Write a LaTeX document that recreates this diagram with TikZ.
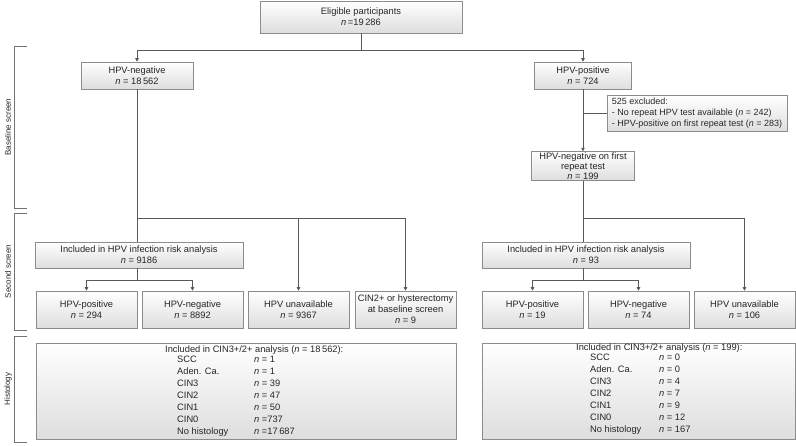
\documentclass[tikz,border=0pt]{standalone}
\usepackage{fontspec}
\setmainfont{Liberation Sans}
\usetikzlibrary{arrows.meta}
\newcommand{\nn}{\textit{n}}
\tikzset{
  box/.style={draw=black!45, line width=0.6pt, top color=white, bottom color=black!13,
    text=black!85, align=center, inner sep=1pt, font=\fontsize{9.3}{11}\selectfont},
  link/.style={draw=black!65, line width=0.7pt},
  arr/.style={link, -{Triangle[length=3.5pt,width=3.5pt]}},
  brace/.style={draw=black!55, line width=0.7pt},
  side/.style={rotate=90, text=black!85, font=\fontsize{8}{9.5}\selectfont},
  htext/.style={anchor=north west, inner sep=0pt, text=black!85, font=\fontsize{9.3}{12}\selectfont},
}
\begin{document}
\begin{tikzpicture}[x=1pt,y=-1pt]
\useasboundingbox (0,0) rectangle (796,445);
\node[box, minimum width=202pt, minimum height=32pt] (elig) at (361,17) {Eligible participants\\\nn\,=19\,286};
\node[box, minimum width=112pt, minimum height=27pt] (neg) at (137,75.5) {HPV-negative\\\nn\ = 18\,562};
\node[box, minimum width=97pt, minimum height=27pt] (pos) at (583,75.5) {HPV-positive\\\nn\ = 724};
\node[box, minimum width=180pt, minimum height=36pt, align=left, font=\fontsize{9}{11}\selectfont] (excl) at (697,113.5) {525 excluded:\\- No repeat HPV test available (\nn\ = 242)\\- HPV-positive on first repeat test (\nn\ = 283)};
\node[box, minimum width=103pt, minimum height=28pt, font=\fontsize{9.3}{10}\selectfont] (rep) at (583,166) {HPV-negative on first\\repeat test\\\nn\ = 199};
\node[box, minimum width=208pt, minimum height=26pt] (incL) at (139,255) {Included in HPV infection risk analysis\\\nn\ = 9186};
\node[box, minimum width=101pt, minimum height=37pt] (posL) at (86.5,309.5) {HPV-positive\\\nn\ = 294};
\node[box, minimum width=101pt, minimum height=37pt] (negL) at (192.5,309.5) {HPV-negative\\\nn\ = 8892};
\node[box, minimum width=101pt, minimum height=37pt] (unavL) at (298.5,309.5) {HPV unavailable\\\nn\ = 9367};
\node[box, minimum width=101pt, minimum height=37pt] (cin) at (405.5,309.5) {CIN2+ or hysterectomy\\at baseline screen\\\nn\ = 9};
\node[box, minimum width=208pt, minimum height=26pt] (incR) at (586,255) {Included in HPV infection risk analysis\\\nn\ = 93};
\node[box, minimum width=101pt, minimum height=37pt] (posR) at (532.5,309.5) {HPV-positive\\\nn\ = 19};
\node[box, minimum width=101pt, minimum height=37pt] (negR) at (638.5,309.5) {HPV-negative\\\nn\ = 74};
\node[box, minimum width=101pt, minimum height=37pt] (unavR) at (744.5,309.5) {HPV unavailable\\\nn\ = 106};
\node[box, minimum width=420pt, minimum height=96pt] (histL) at (246,391) {};
\node[box, minimum width=313pt, minimum height=96pt] (histR) at (638.5,391) {};
\node[htext] (histLt) at (165,344) {\begin{tabular}{@{\hspace{12pt}}p{77pt}@{}l@{}}
\multicolumn{2}{@{}l@{}}{Included in CIN3+/2+ analysis (\nn\ = 18\,562):}\\[-2pt]
SCC & \nn\ = 1\\
Aden. Ca. & \nn\ = 1\\
CIN3 & \nn\ = 39\\
CIN2 & \nn\ = 47\\
CIN1 & \nn\ = 50\\
CIN0 & \nn\ =737\\
No histology & \nn\ =17\,687
\end{tabular}};
\node[htext] (histRt) at (576,342) {\begin{tabular}{@{\hspace{14pt}}p{69pt}@{}l@{}}
\multicolumn{2}{@{}l@{}}{Included in CIN3+/2+ analysis (\nn\ = 199):}\\[-2pt]
SCC & \nn\ = 0\\
Aden. Ca. & \nn\ = 0\\
CIN3 & \nn\ = 4\\
CIN2 & \nn\ = 7\\
CIN1 & \nn\ = 9\\
CIN0 & \nn\ = 12\\
No histology & \nn\ = 167
\end{tabular}};
\coordinate (s1) at (361,50);
\coordinate (s2) at (137,218);
\coordinate (s3) at (137,280);
\coordinate (s4) at (583,218);
\coordinate (s5) at (583,280);
\draw[link] (elig) -- (s1);
\draw[arr] (s1) -| (neg);
\draw[arr] (s1) -| (pos);
\draw[arr] (pos) -- (rep);
\draw[link] (pos.south |- excl.west) -- (excl);
\draw[link] (neg) -- (neg |- incL.north);
\draw[arr] (s2) -| (unavL);
\draw[arr] (s2) -| (cin);
\draw[link] (neg |- incL.south) -- (s3);
\draw[arr] (s3) -| (posL);
\draw[arr] (s3) -| (negL);
\draw[link] (rep) -- (rep |- incR.north);
\draw[arr] (s4) -| (unavR);
\draw[link] (rep |- incR.south) -- (s5);
\draw[arr] (s5) -| (posR);
\draw[arr] (s5) -| (negR);
\draw[brace] (27,46) -- (14,46) -- (14,208) -- (27,208);
\draw[brace] (27,213) -- (14,213) -- (14,330) -- (27,330);
\draw[brace] (27,336) -- (14,336) -- (14,442) -- (27,442);
\node[side] (base) at (8,127) {Baseline screen};
\node[side] (second) at (8,271.5) {Second screen};
\node[side] (histo) at (8,389) {Histology};
\end{tikzpicture}
\end{document}
